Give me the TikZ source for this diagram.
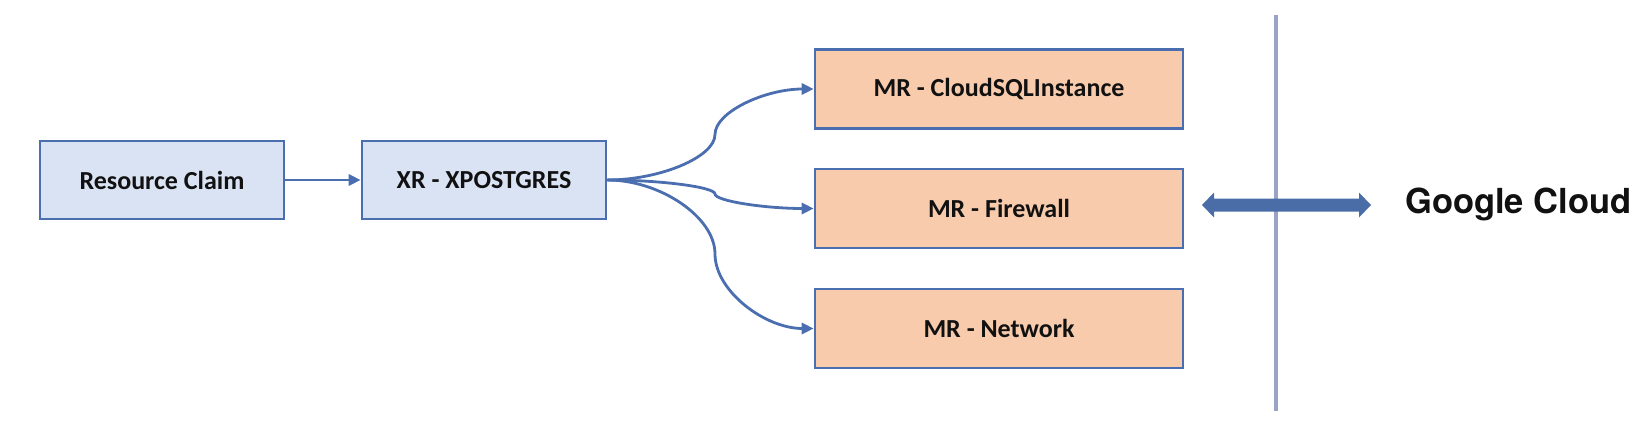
\documentclass[tikz,border=0pt]{standalone}
\usepackage{fontspec}
\setmainfont{Carlito}
\newfontfamily\gcfont{TeX Gyre Heros}
\usetikzlibrary{arrows.meta}
\definecolor{bxblue}{HTML}{DAE3F3}
\definecolor{bxorange}{HTML}{F8CBAD}
\definecolor{lnblue}{HTML}{4A6EB0}
\definecolor{dblblue}{HTML}{4A6DA7}
\definecolor{sepgray}{HTML}{98A3C6}
\definecolor{txt}{HTML}{111111}
\tikzset{
  bluebox/.style={draw=lnblue, line width=2.6pt, fill=bxblue, minimum width=244pt, minimum height=78pt, inner sep=0pt, font=\fontsize{26}{30}\selectfont\bfseries, text=txt},
  orangebox/.style={draw=lnblue, line width=2.6pt, fill=bxorange, minimum width=368pt, minimum height=79pt, inner sep=0pt, font=\fontsize{26}{30}\selectfont\bfseries, text=txt},
  conn/.style={draw=lnblue, line width=2.8pt, -{Triangle[length=12pt,width=11pt]}},
}
\begin{document}
\begin{tikzpicture}[x=1pt,y=-1pt]
\useasboundingbox (0,0) rectangle (1650,428);
\node[bluebox] (rc) at (162,180) {Resource Claim};
\node[bluebox] (xr) at (484,180) {XR - XPOSTGRES};
\node[orangebox] (sql) at (999,89) {MR - CloudSQLInstance};
\node[orangebox] (fw) at (999,208.5) {MR - Firewall};
\node[orangebox] (net) at (999,328.5) {MR - Network};
\draw[conn] (rc.east) -- (xr.west);
\draw[conn] (xr.east) .. controls (660,180) and (715,157) .. (715,134.5)
  .. controls (715,112) and (765,89) .. (sql.west);
\draw[conn] (xr.east) .. controls (660,180) and (715,187) .. (715,194)
  .. controls (715,201) and (765,208.5) .. (fw.west);
\draw[conn] (xr.east) .. controls (660,180) and (715,217) .. (715,254)
  .. controls (715,291) and (765,328.5) .. (net.west);
\coordinate (septop) at (1276,15);
\coordinate (sepbot) at (1276,411);
\draw[sepgray, line width=3.5pt] (septop) -- (sepbot);
\fill[dblblue] (1202,205) -- (1214,192.5) -- (1214,198.5) -- (1359,198.5) -- (1359,192.5)
  -- (1371,205) -- (1359,217.5) -- (1359,211.5) -- (1214,211.5) -- (1214,217.5) -- cycle;
\node[anchor=west, inner sep=0pt, font=\gcfont\fontsize{34.5}{40}\selectfont\bfseries, text=txt] (gc) at (1405,204) {Google Cloud};
\end{tikzpicture}
\end{document}
